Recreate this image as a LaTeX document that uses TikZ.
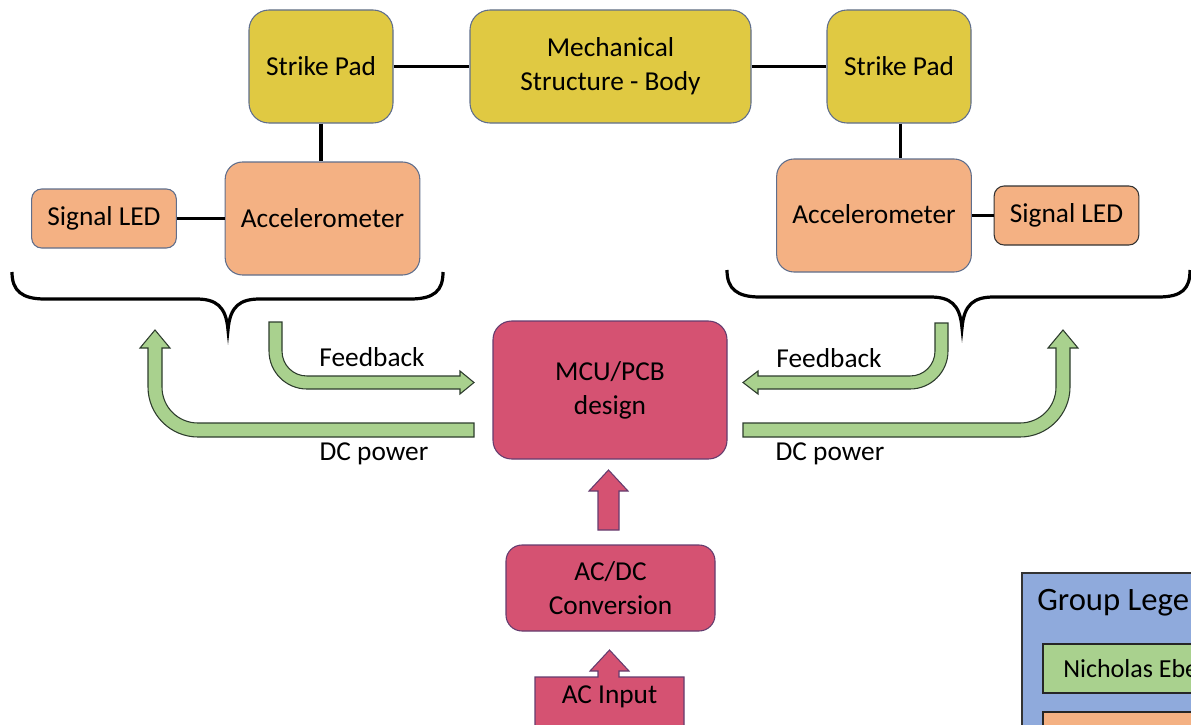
\documentclass[tikz,border=0pt]{standalone}
\usepackage{fontspec}
\setmainfont{Carlito}
\definecolor{padY}{RGB}{224,201,66}
\definecolor{accO}{RGB}{244,177,131}
\definecolor{mcuR}{RGB}{213,82,114}
\definecolor{arrG}{RGB}{169,209,142}
\definecolor{legB}{RGB}{143,170,220}
\definecolor{bordC}{RGB}{95,110,140}
\definecolor{redB}{RGB}{100,60,110}
\definecolor{grnB}{RGB}{45,60,45}
\begin{document}
\begin{tikzpicture}[x=0.75pt,y=-0.75pt,
  box/.style={draw=bordC,line width=0.8pt,align=center,inner sep=0pt,
    font=\fontsize{20.5}{25.5}\selectfont},
  padbox/.style={box,fill=padY,rounded corners=15pt,minimum height=84.75pt},
  accbox/.style={box,fill=accO,rounded corners=13pt,minimum height=84.75pt,minimum width=146pt},
  ledbox/.style={box,fill=accO,rounded corners=7.5pt,minimum height=44.25pt,minimum width=108.5pt},
  redbox/.style={box,draw=redB,fill=mcuR,rounded corners=14pt},
  link/.style={line width=2.4pt,black},
  brace/.style={line width=2.4pt,black},
  garrow/.style={fill=arrG,draw=grnB,line width=0.8pt,line join=miter},
  rarrow/.style={fill=mcuR,draw=redB,line width=0.8pt},
  lbl/.style={font=\fontsize{20.5}{25.5}\selectfont,inner sep=0pt}]
\useasboundingbox (0,0) rectangle (1191,724);
\clip (0,0) rectangle (1191,724);

% top row
\node[padbox,minimum width=108pt] (lsp) at (321,66.5) {Strike Pad};
\node[padbox,minimum width=210.75pt] (ms) at (610.5,66.5) {\raisebox{-2pt}{\parbox{200pt}{\centering Mechanical\\Structure - Body}}};
\node[padbox,minimum width=108pt] (rsp) at (899,66.5) {Strike Pad};

% accelerometers and LEDs
\node[accbox] (lacc) at (322.5,218.5) {Accelerometer};
\node[ledbox] (lled) at (104,218.5) {Signal LED};
\node[accbox] (racc) at (874,215.5) {\raisebox{2pt}{Accelerometer}};
\node[ledbox,draw=black!80] (rled) at (1066.5,215.5) {\raisebox{-3pt}{Signal LED}};

% connectors
\draw[link] (lsp) -- (ms);
\draw[link] (ms) -- (rsp);
\draw[link] (lsp.south) -- (lsp.south |- lacc.north);
\draw[link] ([xshift=1pt]rsp.south) -- ([xshift=1pt]rsp.south |- racc.north);
\draw[link] (lled) -- (lacc);
\draw[link] (racc) -- (rled);

% braces
\draw[brace] (12,272) .. controls (12,291) and (22,299) .. (45,299) -- (196,299)
  .. controls (216,299) and (226,306) .. (228,330)
  .. controls (230,306) and (240,299) .. (260,299) -- (410,299)
  .. controls (434,299) and (443,291) .. (443,272);
\draw[brace] (727,270) .. controls (727,289) and (737,297) .. (760,297) -- (930,297)
  .. controls (950,297) and (960,304) .. (962,328)
  .. controls (964,304) and (974,297) .. (994,297) -- (1158,297)
  .. controls (1182,297) and (1190,289) .. (1190,270);

% MCU
\node[redbox,minimum width=175.5pt,minimum height=103.5pt] (mcu) at (610,390) {\raisebox{-3pt}{\parbox{160pt}{\centering MCU/PCB\\design}}};
\node[redbox,minimum width=156.75pt,minimum height=64.5pt,rounded corners=12pt] (acdc) at (610.5,588) {AC/DC\\Conversion};

% green arrows
\draw[garrow] (269,322) -- (282,322) -- (282,351) .. controls (282,365) and (293,376) .. (307,376)
  -- (460,376) -- (460,371) -- (474,382.5) -- (460,394) -- (460,389) -- (307,389)
  .. controls (286,389) and (269,372) .. (269,351) -- cycle;
\draw[garrow] (935,323) -- (948,323) -- (948,351) .. controls (948,372) and (931,389) .. (910,389)
  -- (758,389) -- (758,394) -- (743,382.5) -- (758,371) -- (758,376) -- (910,376)
  .. controls (924,376) and (935,365) .. (935,351) -- cycle;
\draw[garrow] (474,423) -- (198,423) .. controls (178,423) and (162,407) .. (162,387)
  -- (162,348) -- (170,348) -- (155,330) -- (140,348) -- (148,348) -- (148,387)
  .. controls (148,414.6) and (170.4,437) .. (198,437) -- (474,437) -- cycle;
\draw[garrow] (743,423) -- (1020,423) .. controls (1040,423) and (1056,407) .. (1056,387)
  -- (1056,348) -- (1048,348) -- (1063,330) -- (1078,348) -- (1070,348) -- (1070,387)
  .. controls (1070,414.6) and (1047.6,437) .. (1020,437) -- (743,437) -- cycle;

% labels
\node[lbl] (fbl) at (372,357) {Feedback};
\node[lbl] (dcl) at (374,454) {DC power};
\node[lbl] (fbr) at (829,358) {Feedback};
\node[lbl] (dcr) at (830,454) {DC power};

% red arrows
\draw[rarrow] (598,530) -- (598,491) -- (589,491) -- (608.5,470) -- (628,491) -- (619,491) -- (619,530) -- cycle;
\draw[rarrow] (535,735) -- (535,677) -- (598,677) -- (598,671) -- (590,671) -- (609.5,650)
  -- (629,671) -- (619,671) -- (619,677) -- (684,677) -- (684,735) -- cycle;
\node[lbl] (acin) at (609.5,697) {AC Input};

% legend
\draw[fill=legB,draw=black!80,line width=1pt] (1022,573) rectangle (1200,740);
\node[lbl,anchor=west,font=\fontsize{24.5}{28}\selectfont] (legt) at (1037,603) {Group Lege};
\draw[fill=arrG,draw=black!85,line width=1pt] (1043,644) rectangle (1200,693);
\node[lbl,anchor=west,font=\fontsize{19.5}{23}\selectfont] (leg1) at (1063,668.5) {Nicholas Ebe};
\draw[fill=accO,draw=black!85,line width=1pt] (1043,712) rectangle (1200,740);
\end{tikzpicture}
\end{document}
